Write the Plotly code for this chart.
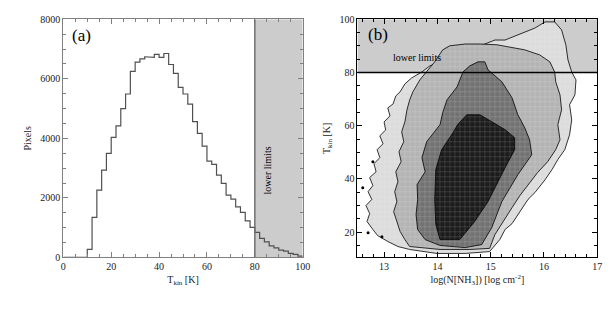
import plotly.graph_objects as go
from plotly.subplots import make_subplots

# ---------------- data: panel (a) histogram ----------------
bin_width = 2
bin_left = list(range(0, 100, 2))
pixel_counts = [0, 0, 0, 0, 0, 270, 1344, 2260, 2933, 3494,
                4030, 4420, 5000, 5490, 6250, 6560, 6670, 6740, 6720, 6820,
                6720, 6850, 6480, 6180, 5710, 5490, 5150, 4560, 4170, 3740,
                3235, 3125, 2765, 2486, 2093, 1959, 1700, 1512, 1230, 1008,
                840, 638, 524, 390, 323, 245, 212, 134, 100, 44]
lower_limit_T = 80

# ---------------- data: panel (b) density contour boundaries ----------------
lev1_logN = [13.48,13.99,14.52,14.98,15.17, 15.27,15.40,15.55,15.70,15.83,16.02,16.15,16.26,16.39,16.48,16.52,16.48,16.58,16.60,16.52,
             16.45,16.41,16.33,16.20,16.02,15.83,15.64,15.45,15.27,15.08,14.89,14.70,14.46,14.23,14.05,13.86,13.71,
             13.52,13.39,13.30,13.22,13.17,13.07,13.11,13.00,13.03,12.92,12.98,12.87,12.92,12.81,12.85,12.73,12.79,12.70,12.77,12.66,12.73,12.68,12.79,12.88,13.07,13.26]
lev1_T = [13.5,12.0,12.0,12.7,17.2, 21.0,23.2,27.7,32.3,34.9,39.7,43.5,47.3,51.0,56.6,62.2,67.9,71.6,77.2,80.2,
          84.7,90.4,96.0,99.0,99.0,96.7,95.2,93.7,92.2,92.2,90.7,89.6,89.2,86.6,84.0,82.5,80.2,
          78.0,75.7,72.7,71.2,68.2,66.7,63.7,61.4,58.4,56.2,53.2,51.0,48.0,45.7,42.7,40.5,37.5,35.2,32.3,30.0,27.0,24.0,21.0,18.7,16.5,14.6]

lev2_logN = [13.48,14.05,14.61,14.98, 15.08,15.23,15.40,15.55,15.70,15.88,16.07,16.22,16.30,16.26,16.33,16.30,16.22,16.20,
             16.11,15.92,15.64,15.36,15.12,14.80,14.52,14.23,14.10,13.95,13.80,
             13.67,13.54,13.48,13.43,13.39,13.33,13.37,13.28,13.32,13.22,13.26,13.20,13.24,13.18,13.24,13.30,13.39]
lev2_T = [14.6,13.5,13.5,13.9, 19.1,24.0,29.2,33.8,37.9,42.4,46.5,51.0,54.7,60.4,66.0,71.6,76.5,80.2,
          84.0,86.6,88.5,89.6,90.4,90.7,90.7,90.0,88.5,84.0,80.2,
          77.2,72.7,69.7,66.0,61.4,57.7,54.0,50.2,46.5,42.7,39.0,35.2,31.5,27.7,24.0,20.3,17.2]

lev3_logN = [14.05,14.52,14.83,15.02,15.21,15.51,15.77,15.73,15.64,15.51,15.40,15.21,14.95,14.89,14.76,14.61,14.48,14.37,14.18,14.10,
             14.05,13.80,13.71,13.77,13.62,13.63,13.60,13.63,13.77]
lev3_T = [15.0,14.2,15.3,21.7,31.5,41.6,49.1,54.7,59.2,64.1,70.5,76.5,81.0,84.0,84.0,82.5,80.2,74.6,69.7,64.9,
          60.4,54.0,48.0,42.7,37.9,32.3,26.6,21.0,17.2]

lev4_logN = [14.05,14.42,14.70,14.95,15.27,15.45,15.45,15.27,15.02,14.80,14.55,14.38,14.29,14.08,13.97,13.95,13.97]
lev4_T = [17.2,17.2,24.0,31.5,44.2,51.0,55.5,58.5,61.5,64.1,64.1,60.4,57.3,51.0,43.5,32.3,22.9]

stray_logN = [12.60, 12.70, 12.96, 12.79]
stray_T = [36.7, 19.8, 18.3, 46.5]

level_colors = ["#dcdcdc", "#b4b4b4", "#727272", "#1c1c1c"]

# ---------------- figure ----------------
SERIF = "Liberation Serif"
fig = make_subplots(rows=1, cols=2)

# histogram as step line
xs = []
ys = []
for b, c in zip(bin_left, pixel_counts):
    xs += [b, b + bin_width]
    ys += [c, c]
fig.add_trace(go.Scatter(x=xs, y=ys, mode="lines",
                         line=dict(color="#505050", width=1.2),
                         showlegend=False, hoverinfo="skip"), row=1, col=1)

levels = [(lev1_logN, lev1_T), (lev2_logN, lev2_T), (lev3_logN, lev3_T), (lev4_logN, lev4_T)]
for (lx, ly), col in zip(levels, level_colors):
    fig.add_trace(go.Scatter(x=lx + [lx[0]], y=ly + [ly[0]], mode="lines", fill="toself",
                             fillcolor=col,
                             fillpattern=dict(shape="+", fgcolor="rgba(255,255,255,0.8)",
                                              bgcolor=col, size=5, solidity=0.12),
                             line=dict(color="black", width=0.8),
                             showlegend=False, hoverinfo="skip"), row=1, col=2)

fig.add_trace(go.Scatter(x=stray_logN, y=stray_T, mode="markers",
                         marker=dict(color="black", size=3),
                         showlegend=False, hoverinfo="skip"), row=1, col=2)

# shaded lower-limit regions
fig.add_shape(type="rect", x0=lower_limit_T, x1=100, y0=0, y1=8000, xref="x", yref="y",
              fillcolor="#cccccc", line=dict(width=0), layer="below")
fig.add_shape(type="line", x0=lower_limit_T, x1=lower_limit_T, y0=0, y1=8000, xref="x", yref="y",
              line=dict(color="#707070", width=1.5))
fig.add_shape(type="rect", x0=12.5, x1=17, y0=lower_limit_T, y1=100, xref="x2", yref="y2",
              fillcolor="#cccccc", line=dict(width=0), layer="below")
fig.add_shape(type="line", x0=12.5, x1=17, y0=lower_limit_T, y1=lower_limit_T, xref="x2", yref="y2",
              line=dict(color="black", width=1.5))

fig.add_annotation(x=7.4, y=7470, xref="x", yref="y", text="(a)", showarrow=False,
                   font=dict(family=SERIF, size=17, color="black"))
fig.add_annotation(x=12.88, y=94.1, xref="x2", yref="y2", text="(b)", showarrow=False,
                   font=dict(family=SERIF, size=17, color="black"))
fig.add_annotation(x=85.2, y=2930, xref="x", yref="y", text="lower limits", showarrow=False,
                   textangle=-90, font=dict(family=SERIF, size=10, color="black"))
fig.add_annotation(x=13.62, y=85.5, xref="x2", yref="y2", text="lower limits", showarrow=False,
                   font=dict(family=SERIF, size=10, color="black"))

tickfont = dict(family=SERIF, size=10, color="#222")
common = dict(showline=True, mirror="allticks", ticks="inside", ticklen=5, tickwidth=1,
              showgrid=False, zeroline=False, tickfont=tickfont, automargin=False)

ydom = [0.198, 0.94]
fig.update_xaxes(range=[0, 100], dtick=20, tick0=0, linecolor="#808080", tickcolor="#808080",
                 minor=dict(dtick=5, ticks="inside", ticklen=3, tickcolor="#808080"),
                 title=dict(text="T<sub>kin</sub> [K]", font=dict(family=SERIF, size=10, color="#222"), standoff=4),
                 domain=[0.1035, 0.4946], row=1, col=1, **common)
fig.update_yaxes(range=[0, 8000], dtick=2000, linecolor="#808080", tickcolor="#808080",
                 minor=dict(dtick=500, ticks="inside", ticklen=3, tickcolor="#808080"),
                 title=dict(text="Pixels", font=dict(family=SERIF, size=10, color="#222"), standoff=6),
                 domain=ydom, row=1, col=1, **common)
fig.update_xaxes(range=[12.5, 17], dtick=1, tick0=13, linecolor="black", tickcolor="black",
                 minor=dict(dtick=0.2, ticks="inside", ticklen=3, tickcolor="black"),
                 title=dict(text="log(N[NH<sub>3</sub>]) [log cm<sup>-2</sup>]",
                            font=dict(family=SERIF, size=10, color="#222"), standoff=4),
                 domain=[0.584, 0.976], row=1, col=2, **common)
fig.update_yaxes(range=[10.5, 100], dtick=20, tick0=0, linecolor="black", tickcolor="black",
                 minor=dict(dtick=5, ticks="inside", ticklen=3, tickcolor="black"),
                 title=dict(text="T<sub>kin</sub> [K]", font=dict(family=SERIF, size=10, color="#222"), standoff=6),
                 domain=ydom, row=1, col=2, **common)

fig.update_layout(width=612, height=321, margin=dict(l=0, r=0, t=0, b=0, pad=0),
                  paper_bgcolor="white", plot_bgcolor="white", showlegend=False)

# place the 612x321 figure flush with the page corner
fig.write_html("out.html", config={"displayModeBar": False},
               post_script="document.body.style.margin='0';document.body.style.overflow='hidden';")
